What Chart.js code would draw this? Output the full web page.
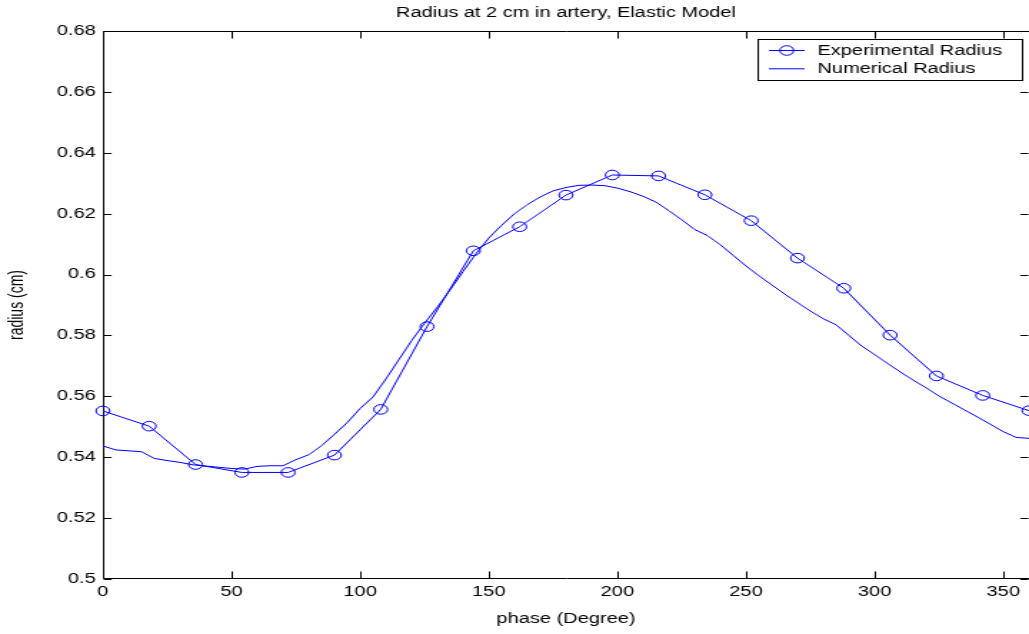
<!DOCTYPE html>
<html><head><meta charset="utf-8">
<script src="https://cdn.jsdelivr.net/npm/chart.js@4.4.1/dist/chart.umd.min.js"></script>
<style>
html,body{margin:0;padding:0;background:#fff;overflow:hidden;}
#wrap{width:720px;height:634px;transform:scale(1.42917,1);transform-origin:0 0;}
canvas{display:block;}
</style></head><body>
<div id="wrap"><canvas id="c" width="720" height="634"></canvas></div>
<script>
// ---- data ----
const chartTitle = 'Radius at 2 cm in artery, Elastic Model';
const xLabel = 'phase (Degree)';
const yLabel = 'radius (cm)';
const seriesNames = ['Experimental Radius', 'Numerical Radius'];

const phaseExp = [0,18,36,54,72,90,108,126,144,162,180,198,216,234,252,270,288,306,324,342,360];
const radiusExp = [0.5552,0.5502,0.5376,0.5350,0.5350,0.5407,0.5557,0.5829,0.6078,0.6157,0.6261,0.6327,0.6324,0.6262,0.6177,0.6054,0.5955,0.5801,0.5667,0.5603,0.5553];

const phaseNum = [0,5,10,15,20,25,30,35,40,45,50,55,60,65,70,75,80,85,90,95,100,105,110,115,120,125,130,135,140,145,150,155,160,165,170,175,180,185,190,195,200,205,210,215,220,225,230,235,240,245,250,255,260,265,270,275,280,285,290,295,300,305,310,315,320,325,330,335,340,345,350,355,360];
const radiusNum = [0.5437,0.5424,0.5421,0.5418,0.5396,0.5389,0.5383,0.5375,0.5371,0.5367,0.5363,0.5361,0.5370,0.5372,0.5372,0.5392,0.5408,0.5438,0.5475,0.5514,0.5560,0.5598,0.5657,0.5720,0.5783,0.5840,0.5893,0.5950,0.6010,0.6068,0.6120,0.6162,0.6200,0.6230,0.6255,0.6275,0.6286,0.6293,0.6294,0.6292,0.6284,0.6272,0.6257,0.6238,0.6210,0.6180,0.6148,0.6128,0.6098,0.6063,0.6028,0.5996,0.5966,0.5936,0.5908,0.5880,0.5855,0.5835,0.5800,0.5765,0.5737,0.5708,0.5680,0.5653,0.5628,0.5601,0.5578,0.5555,0.5532,0.5508,0.5484,0.5465,0.5462];

const xMin = 0, xMax = 360, xStep = 50;
const yMin = 0.5, yMax = 0.68, yStep = 0.02;

// ---- styles ----
const FONT = "'Liberation Sans', Arial, Helvetica, sans-serif";
const BLUE = '#0000ff';

const framePlugin = {
  id: 'frame',
  beforeDraw(chart) {
    const ctx = chart.ctx;
    ctx.save();
    ctx.fillStyle = '#fff';
    ctx.fillRect(0, 0, chart.width, chart.height);
    ctx.restore();
  },
  beforeDatasetsDraw(chart) {
    const {ctx, chartArea: a, scales: {x, y}} = chart;
    ctx.save();
    ctx.strokeStyle = '#000';
    ctx.lineWidth = 1;
    const L = Math.round(a.left) + 0.5, R = Math.round(a.right) + 0.5;
    const T = Math.round(a.top) + 0.5, B = Math.round(a.bottom) - 0.5;
    ctx.beginPath();
    ctx.rect(L, T, R - L, B - T);
    ctx.stroke();
    ctx.beginPath();
    x.ticks.forEach(t => {
      const p = Math.round(x.getPixelForValue(t.value)) + 0.5;
      ctx.moveTo(p, B); ctx.lineTo(p, B - 7);
      ctx.moveTo(p, T); ctx.lineTo(p, T + 7);
    });
    y.ticks.forEach(t => {
      const p = Math.round(y.getPixelForValue(t.value)) + 0.5;
      ctx.moveTo(L, p); ctx.lineTo(L + 5.6, p);
      ctx.moveTo(R - 1, p); ctx.lineTo(R - 6.6, p);
    });
    ctx.stroke();
    ctx.restore();
  },
  afterDraw(chart) {
    const ctx = chart.ctx;
    ctx.save();
    const bx = 530.5, by = 39.5, bw = 185, bh = 41;
    ctx.fillStyle = '#fff';
    ctx.fillRect(bx, by, bw, bh);
    ctx.strokeStyle = '#000';
    ctx.lineWidth = 1;
    ctx.strokeRect(bx, by, bw, bh);
    chart.data.datasets.forEach((ds, i) => {
      const yy = 50.5 + i * 18.3;
      ctx.strokeStyle = ds.borderColor;
      ctx.lineWidth = 1;
      ctx.beginPath();
      ctx.moveTo(538, yy); ctx.lineTo(563, yy);
      ctx.stroke();
      if (ds.pointRadius > 0) {
        ctx.beginPath();
        ctx.arc(550.5, yy, ds.pointRadius, 0, Math.PI * 2);
        ctx.stroke();
      }
      ctx.fillStyle = '#000';
      ctx.font = '14px ' + FONT;
      ctx.textBaseline = 'middle';
      ctx.textAlign = 'left';
      ctx.fillText(ds.label, 572, yy + 0.5);
    });
    ctx.restore();
  }
};

const tickFont = {family: FONT, size: 14};

new Chart(document.getElementById('c'), {
  type: 'line',
  data: {
    datasets: [
      {
        label: seriesNames[0],
        data: phaseExp.map((p, i) => ({x: p, y: radiusExp[i]})),
        borderColor: BLUE,
        borderWidth: 1,
        pointStyle: 'circle',
        pointRadius: 4.8,
        pointBorderColor: BLUE,
        pointBackgroundColor: 'rgba(0,0,0,0)',
        pointBorderWidth: 1,
        tension: 0,
        fill: false,
        clip: false
      },
      {
        label: seriesNames[1],
        data: phaseNum.map((p, i) => ({x: p, y: radiusNum[i]})),
        borderColor: BLUE,
        borderWidth: 1,
        pointRadius: 0,
        tension: 0,
        fill: false
      }
    ]
  },
  options: {
    responsive: false,
    animation: false,
    devicePixelRatio: 1,
    events: [],
    layout: {padding: 0, autoPadding: false},
    plugins: {
      legend: {display: false},
      tooltip: {enabled: false},
      title: {
        display: true,
        text: chartTitle,
        fullSize: false,
        color: '#000',
        font: {family: FONT, size: 14, weight: 'normal'},
        padding: {top: 5, bottom: 9.2}
      }
    },
    scales: {
      x: {
        type: 'linear',
        min: xMin, max: xMax,
        bounds: 'data',
        grid: {display: false, drawTicks: false},
        border: {display: false},
        ticks: {stepSize: xStep, includeBounds: false, color: '#000', font: tickFont, padding: 5, maxRotation: 0, autoSkip: false},
        afterBuildTicks(s) { s.ticks = s.ticks.filter(t => t.value % xStep === 0); },
        title: {display: true, text: xLabel, color: '#000', font: tickFont, padding: {top: 0, bottom: 6}},
        afterFit(s) { s.height = 55; s.paddingRight = 0; }
      },
      y: {
        type: 'linear',
        min: yMin, max: yMax,
        grid: {display: false, drawTicks: false},
        border: {display: false},
        ticks: {stepSize: yStep, color: '#000', font: tickFont, padding: 5, autoSkip: false,
          callback: v => String(+v.toFixed(2))},
        title: {display: true, text: yLabel, color: '#000', font: tickFont, padding: {top: 4, bottom: 0}},
        afterFit(s) { s.width = 72; }
      }
    }
  },
  plugins: [framePlugin]
});
</script>
</body></html>
